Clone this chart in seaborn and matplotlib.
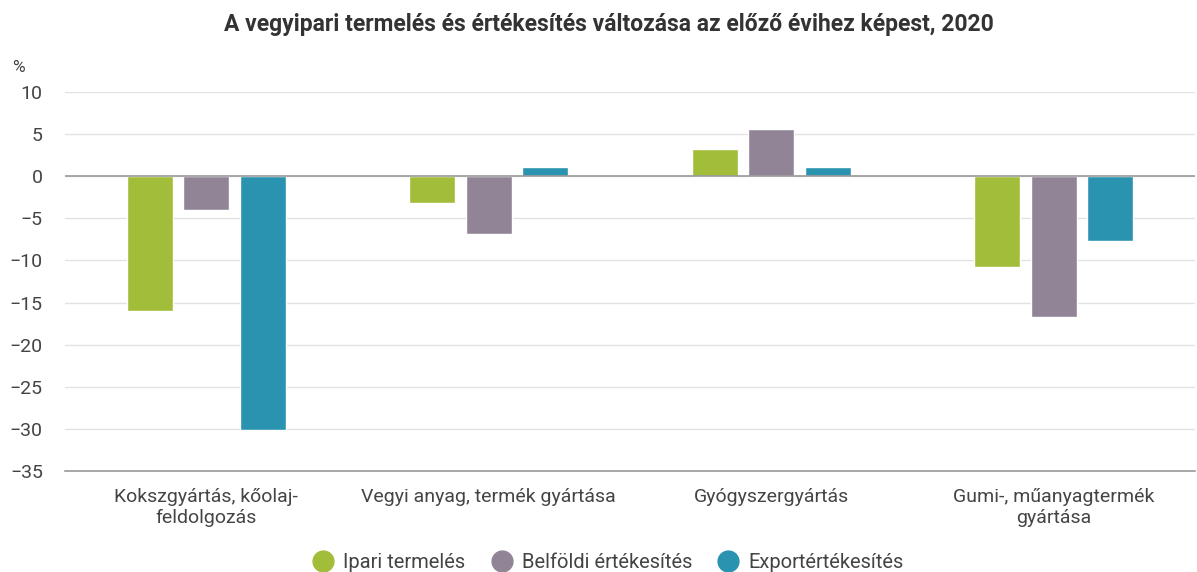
import pandas as pd
import matplotlib.pyplot as plt
import seaborn as sns
from matplotlib.lines import Line2D

categories = ['Kokszgyártás, kőolaj-\nfeldolgozás', 'Vegyi anyag, termék gyártása',
              'Gyógyszergyártás', 'Gumi-, műanyagtermék\ngyártása']
series = ['Ipari termelés', 'Belföldi értékesítés', 'Exportértékesítés']
ipari = [-16.0, -3.2, 3.3, -10.8]
belfoldi = [-4.0, -6.8, 5.6, -16.7]
export = [-30.1, 1.1, 1.1, -7.7]
colors = ['#A2BD3A', '#918496', '#2A93B0']

df = pd.DataFrame({
    'cat': categories * 3,
    'series': [s for s in series for _ in categories],
    'value': ipari + belfoldi + export,
})

sns.set_style('white')
plt.rcParams['font.family'] = ['Roboto', 'DejaVu Sans']

fig = plt.figure(figsize=(11.97, 5.72), dpi=100)
ax = fig.add_axes([0.0543, 0.1766, 0.944, 0.6624])

sns.barplot(data=df, x='cat', y='value', hue='series', palette=colors,
            width=0.6, gap=0.19, ax=ax, legend=False, saturation=1)

ax.set_ylim(-35, 10)
ax.set_xlim(-0.5, 3.5)
ax.set_yticks(range(-35, 11, 5))
ax.set_yticklabels([str(v).replace('-', '\u2212') for v in range(-35, 11, 5)],
                   fontsize=14, color='#444444')
ax.yaxis.grid(True, color='#e2e2e2', linewidth=1)
ax.set_axisbelow(True)
ax.axhline(0, color='#999999', linewidth=1.2, zorder=1)
ax.tick_params(axis='y', length=0, pad=16)

ax.set_xticks(range(4))
ax.set_xticklabels(categories, fontsize=14, color='#444444', linespacing=1.25)
ax.set_xticks([-0.5, 0.5, 1.5, 2.5, 3.5], minor=True)
ax.tick_params(axis='x', which='major', length=0, pad=12)
ax.tick_params(axis='x', which='minor', length=9, color='#999999', width=1, direction='out')
ax.set_xlabel('')
ax.set_ylabel('')

for side in ['top', 'right', 'left']:
    ax.spines[side].set_visible(False)
ax.spines['bottom'].set_color('#999999')
ax.spines['bottom'].set_linewidth(1.2)

fig.text(0.01, 0.875, '%', fontsize=12.5, color='#444444')
fig.text(0.509, 0.958, 'A vegyipari termelés és értékesítés változása az előző évihez képest, 2020',
         ha='center', va='center', fontsize=16.5, fontweight='bold', color='#333333')

handles = [Line2D([], [], marker='o', linestyle='', markersize=15, color=c) for c in colors]
fig.legend(handles, series, loc='center', bbox_to_anchor=(0.504, 0.017), ncol=3,
           frameon=False, fontsize=14.5, handletextpad=0.0, columnspacing=0.8,
           labelcolor='#444444')

fig.savefig('out.png', dpi=100)
